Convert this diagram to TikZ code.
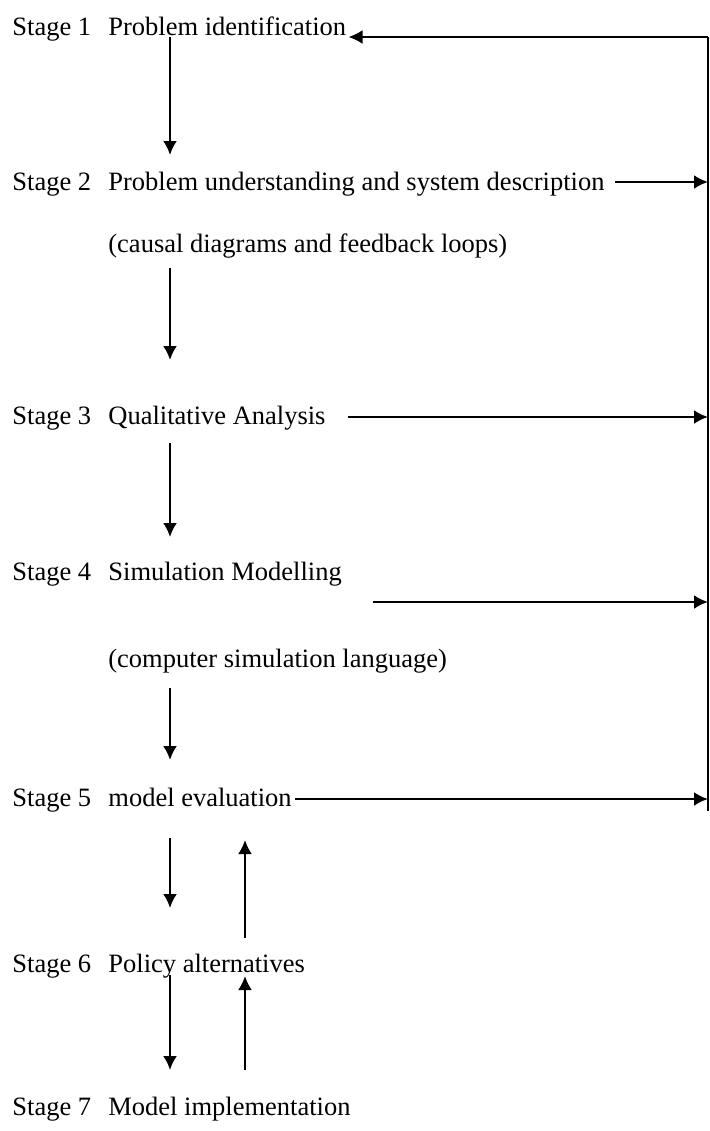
\documentclass[tikz,border=0pt]{standalone}
\usepackage{fontspec}
\setmainfont{Liberation Serif}
\usepackage{tikz}
\usetikzlibrary{arrows.meta, positioning, calc}
\tikzstyle{label} = [anchor=base west, inner sep=0pt, font=\fontsize{13.25}{15}\selectfont]
\tikzstyle{arrow} = [arrows=->, black, line width=1.2pt]
\tikzstyle{bus} = [black, line width=0.7pt]

\begin{document}
\begin{tikzpicture}[x=0.5pt, y=-0.5pt, >={Latex[length=7pt,width=7pt]}]
    \useasboundingbox (0,0) rectangle (709,1131);

    % Place the stages
    \node [label] (st1) at (12,35) {Stage 1};
    \node [label] (p1) at (108,35) {Problem identification};
    \node [label] (st2) at (12,190) {Stage 2};
    \node [label] (p2) at (108,190) {Problem understanding and system description};
    \node [label] (c2) at (108,252) {(causal diagrams and feedback loops)};
    \node [label] (st3) at (12,424) {Stage 3};
    \node [label] (p3) at (108,424) {Qualitative Analysis};
    \node [label] (st4) at (12,580) {Stage 4};
    \node [label] (p4) at (108,580) {Simulation Modelling};
    \node [label] (c4) at (108,667) {(computer simulation language)};
    \node [label] (st5) at (12,806) {Stage 5};
    \node [label] (p5) at (108,806) {model evaluation};
    \node [label] (st6) at (12,972) {Stage 6};
    \node [label] (p6) at (108,972) {Policy alternatives};
    \node [label] (st7) at (12,1115) {Stage 7};
    \node [label] (p7) at (108,1115) {Model implementation};

    % Feedback bus on the right
    \coordinate (bustop) at (708,37);
    \coordinate (busbot) at (708,811);
    \coordinate (down) at (170,0);
    \coordinate (up) at (245,0);
    \draw [bus] (bustop) -- (busbot);

    % Stage to stage
    \draw [arrow] ([yshift=-1pt]p1.base -| down) -- ([yshift=17.5pt]p2.base -| down);
    \draw [arrow] ([yshift=-8pt]c2.base -| down) -- ([yshift=32pt]p3.base -| down);
    \draw [arrow] ([yshift=-9.5pt]p3.base -| down) -- ([yshift=21.5pt]p4.base -| down);
    \draw [arrow] ([yshift=-10.5pt]c4.base -| down) -- ([yshift=23pt]p5.base -| down);
    \draw [arrow] ([yshift=-16pt]p5.base -| down) -- ([yshift=32pt]p6.base -| down);
    \draw [arrow] ([yshift=17pt]p6.base -| up) -- ([yshift=-17pt]p5.base -| up);
    \draw [arrow] ([yshift=-1.5pt]p6.base -| down) -- ([yshift=22.5pt]p7.base -| down);
    \draw [arrow] ([yshift=22.5pt]p7.base -| up) -- ([yshift=-2pt]p6.base -| up);

    % Connect the stages to the bus
    \coordinate (a1) at ([shift={(1pt,-1pt)}]p1.base east);
    \coordinate (a2) at ([shift={(5pt,4pt)}]p2.base east);
    \coordinate (a3) at ([shift={(11pt,3.5pt)}]p3.base east);
    \coordinate (a4) at ([shift={(15.5pt,-11pt)}]p4.base east);
    \coordinate (a5) at ([shift={(1.5pt,3.5pt)}]p5.base east);
    \draw [arrow] (bustop) -- (a1);
    \draw [arrow] (a2) -- (a2 -| bustop);
    \draw [arrow] (a3) -- (a3 -| bustop);
    \draw [arrow] (a4) -- (a4 -| bustop);
    \draw [arrow] (a5) -- (a5 -| bustop);
\end{tikzpicture}
\end{document}
